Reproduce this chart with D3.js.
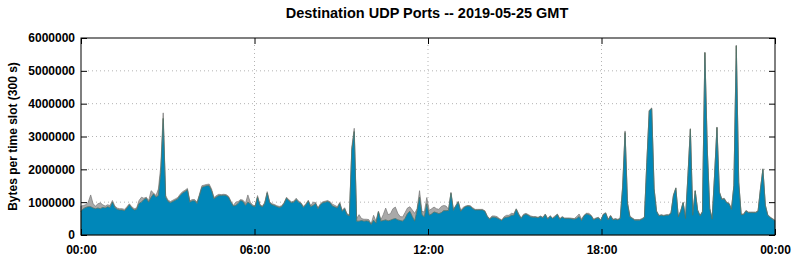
<!DOCTYPE html>
<html>
<head>
<meta charset="utf-8">
<script src="https://cdn.jsdelivr.net/npm/d3@7"></script>
<style>
  body { margin: 0; background: #fff; }
  text { font-family: "Liberation Sans", Arial, sans-serif; font-weight: bold; fill: #000; }
</style>
</head>
<body>
<div id="chart"></div>
<script>
// Destination UDP ports, one value per 300 s slot (288 slots), in millions of bytes

// main port (blue)
var mainPort = [
  .72,.80,.84,.86,.86,.82,.80,.82,.80,.84,
  .82,.86,.84,1.0,.84,.78,.76,.76,.74,.82,
  .92,.82,.76,.78,.96,1.0,1.08,1.12,1.0,1.15,
  1.25,1.15,1.2,1.9,3.55,1.15,1.02,.98,1.02,1.06,
  1.1,1.2,1.28,1.32,1.38,1.0,1.04,1.04,.96,1.2,
  1.45,1.48,1.5,1.5,1.35,1.1,1.16,1.2,1.2,1.21,
  1.2,1.15,1.0,.88,.9,.96,1.05,1.02,.9,1.0,
  .95,.88,.86,1.15,.9,.85,.96,1.28,.98,.92,
  .9,.86,.84,.86,.96,1.12,1.04,.98,1.0,1.08,
  1.0,.95,.84,.92,1.03,.86,.9,.96,.8,.92,
  .98,1.0,1.02,.98,.88,.85,.82,.96,.72,.8,
  .62,.58,2.6,3.15,.42,.42,.44,.42,.43,.42,
  .32,.45,.36,.7,.42,.44,.46,.43,.45,.48,
  .5,.46,.44,.42,.5,.65,.72,.56,.42,.75,
  1.15,.62,.55,.95,.6,.64,.7,.68,.65,.68,
  .74,.74,.75,1.27,.75,.88,1.0,.72,.8,.86,
  .88,.87,.8,.76,.76,.76,.76,.72,.56,.48,
  .54,.54,.52,.48,.44,.52,.54,.55,.6,.6,
  .78,.62,.5,.6,.63,.6,.55,.54,.54,.52,
  .56,.52,.62,.48,.57,.5,.55,.62,.48,.54,
  .5,.5,.5,.49,.48,.5,.56,.44,.58,.64,
  .62,.58,.46,.5,.52,.44,.62,.66,.46,.58,
  .46,.48,.46,.5,1.45,3.12,.95,.55,.5,.45,
  .45,.45,.48,.53,2.2,3.78,3.85,1.4,.72,.58,
  .6,.58,.6,.6,.66,1.2,1.42,.55,.72,.98,
  .5,1.8,3.22,.6,1.34,.75,.58,.7,5.55,2.6,
  .8,.48,1.8,3.27,1.3,1.08,1.1,.98,.95,.78,
  1.5,5.76,1.6,.62,.62,.73,.68,.68,.68,.68,
  .72,1.4,2.0,.9,.6,.53,.48,.43
];

// all other ports (gray, stacked on top)
var otherPorts = [
  .16,.10,.08,.14,.36,.13,.08,.13,.18,.08,
  .06,.06,.06,.05,.04,.04,.04,.04,.04,.04,
  .03,.04,.04,.04,.09,.15,.04,.03,.05,.2,
  .03,.05,.2,.2,.17,.05,.04,.04,.04,.04,
  .04,.04,.04,.04,.04,.04,.04,.04,.04,.04,
  .05,.04,.04,.05,.05,.04,.04,.04,.03,.03,
  .03,.03,.03,.02,.1,.06,.03,.04,.06,.22,
  .05,.03,.03,.05,.03,.03,.03,.04,.03,.03,
  .03,.03,.03,.03,.03,.03,.03,.03,.03,.04,
  .03,.03,.03,.03,.03,.03,.1,.03,.03,.03,
  .03,.03,.03,.03,.06,.05,.04,.03,.03,.03,
  .03,.03,.08,.1,.08,.2,.06,.06,.05,.05,
  .02,.15,.06,.03,.04,.18,.36,.19,.2,.32,
  .35,.2,.12,.13,.18,.17,.14,.2,.24,.05,
  .2,.1,.15,.19,.15,.16,.15,.12,.13,.19,
  .16,.14,.03,.03,.03,.02,.03,.03,.04,.02,
  .02,.02,.03,.02,.02,.02,.02,.02,.02,.02,
  .04,.04,.04,.02,.02,.04,.06,.05,.06,.05,
  .02,.03,.02,.03,.03,.02,.03,.02,.02,.02,
  .02,.02,.02,.02,.02,.02,.03,.02,.02,.02,
  .02,.02,.02,.02,.02,.06,.08,.04,.02,.02,
  .04,.02,.02,.02,.02,.02,.02,.02,.02,.02,
  .02,.02,.02,.02,.05,.05,.05,.02,.02,.02,
  .02,.02,.02,.02,.02,.02,.02,.02,.02,.02,
  .02,.02,.02,.02,.02,.02,.02,.02,.02,.02,
  .02,.02,.02,.02,.02,.02,.02,.02,.02,.02,
  .02,.02,.02,.02,.02,.02,.02,.02,.02,.02,
  .02,.02,.02,.02,.02,.02,.02,.02,.02,.02,
  .02,.02,.02,.02,.02,.02,.02,.02
];

var yTicks = [0, 1000000, 2000000, 3000000, 4000000, 5000000, 6000000];
var xTickHours = [0, 6, 12, 18, 24];
var chartTitle = "Destination UDP Ports -- 2019-05-25 GMT";
var yTitle = "Bytes per time slot (300 s)";

var w = 795, h = 260;
var margin = {left: 81, right: 20, top: 38, bottom: 25};

var svg = d3.select("#chart").append("svg")
  .attr("width", w)
  .attr("height", h);

var dayStart = new Date(Date.UTC(2019, 4, 25, 0, 0));
var dayEnd = new Date(Date.UTC(2019, 4, 26, 0, 0));

// slot index scale for the data, time scale for the axis labels
var x = d3.scaleLinear().domain([0, mainPort.length - 1]).range([margin.left, w - margin.right]);
var xTime = d3.scaleUtc().domain([dayStart, dayEnd]).range([margin.left, w - margin.right]);
var y = d3.scaleLinear().domain([0, 6000000]).range([h - margin.bottom, margin.top]);

var rows = mainPort.map(function (v, i) {
  return {i: i, main: v * 1e6, other: otherPorts[i] * 1e6};
});
var stacked = d3.stack().keys(["main", "other"])(rows);

// grid (under the data)
var grid = svg.append("g").attr("class", "grid");
grid.selectAll("line.gy")
  .data(yTicks.slice(1, -1))
  .enter().append("line")
  .attr("x1", margin.left + 7).attr("x2", w - margin.right - 7)
  .attr("y1", function (d) { return y(d); })
  .attr("y2", function (d) { return y(d); })
  .attr("stroke", "#b4b4b4").attr("stroke-dasharray", "1,3");
grid.selectAll("line.gx")
  .data(xTickHours.slice(1, -1))
  .enter().append("line")
  .attr("x1", function (d) { return xTime(d3.utcHour.offset(dayStart, d)); })
  .attr("x2", function (d) { return xTime(d3.utcHour.offset(dayStart, d)); })
  .attr("y1", margin.top + 7).attr("y2", h - margin.bottom - 7)
  .attr("stroke", "#b4b4b4").attr("stroke-dasharray", "1,3");

// stacked areas
var area = d3.area()
  .x(function (d) { return x(d.data.i); })
  .y0(function (d) { return y(d[0]); })
  .y1(function (d) { return y(d[1]); });

var fills = {main: "#0087b9", other: "#a9a9a9"};
var strokes = {main: "#52705c", other: "#777777"};

// gray first (total), then blue on top
svg.append("path")
  .datum(stacked[1])
  .attr("d", area)
  .attr("fill", fills.other)
  .attr("stroke", strokes.other)
  .attr("stroke-width", 0.7);

svg.append("path")
  .datum(stacked[0])
  .attr("d", area)
  .attr("fill", fills.main)
  .attr("stroke", strokes.main)
  .attr("stroke-width", 0.6);

// axes with inward ticks, mirrored
var fmtTime = d3.utcFormat("%H:%M");
var xTickDates = xTickHours.map(function (hh) { return d3.utcHour.offset(dayStart, hh); });

var axL = svg.append("g")
  .attr("transform", "translate(" + margin.left + ",0)")
  .call(d3.axisLeft(y).tickValues(yTicks).tickFormat(d3.format("d")).tickSize(-6).tickPadding(6));
var axR = svg.append("g")
  .attr("transform", "translate(" + (w - margin.right) + ",0)")
  .call(d3.axisRight(y).tickValues(yTicks).tickFormat("").tickSize(-6));
var axB = svg.append("g")
  .attr("transform", "translate(0," + (h - margin.bottom) + ")")
  .call(d3.axisBottom(xTime).tickValues(xTickDates).tickFormat(fmtTime).tickSize(-6).tickPadding(10));
var axT = svg.append("g")
  .attr("transform", "translate(0," + margin.top + ")")
  .call(d3.axisTop(xTime).tickValues(xTickDates).tickFormat("").tickSize(-6));

[axL, axR, axB, axT].forEach(function (g) {
  g.select(".domain").remove();
  g.selectAll(".tick line").attr("stroke", "#000");
  g.selectAll("text").style("font-size", "12px").style("font-family", null);
});

// frame
svg.append("rect")
  .attr("x", margin.left).attr("y", margin.top)
  .attr("width", w - margin.left - margin.right)
  .attr("height", h - margin.top - margin.bottom)
  .attr("fill", "none").attr("stroke", "#000").attr("stroke-width", 1);

// titles
svg.append("text")
  .attr("x", 427).attr("y", 18)
  .attr("text-anchor", "middle")
  .style("font-size", "14.5px")
  .text(chartTitle);

svg.append("text")
  .attr("transform", "translate(17," + ((margin.top + h - margin.bottom) / 2) + ") rotate(-90)")
  .attr("text-anchor", "middle")
  .style("font-size", "12px")
  .text(yTitle);
</script>
</body>
</html>
